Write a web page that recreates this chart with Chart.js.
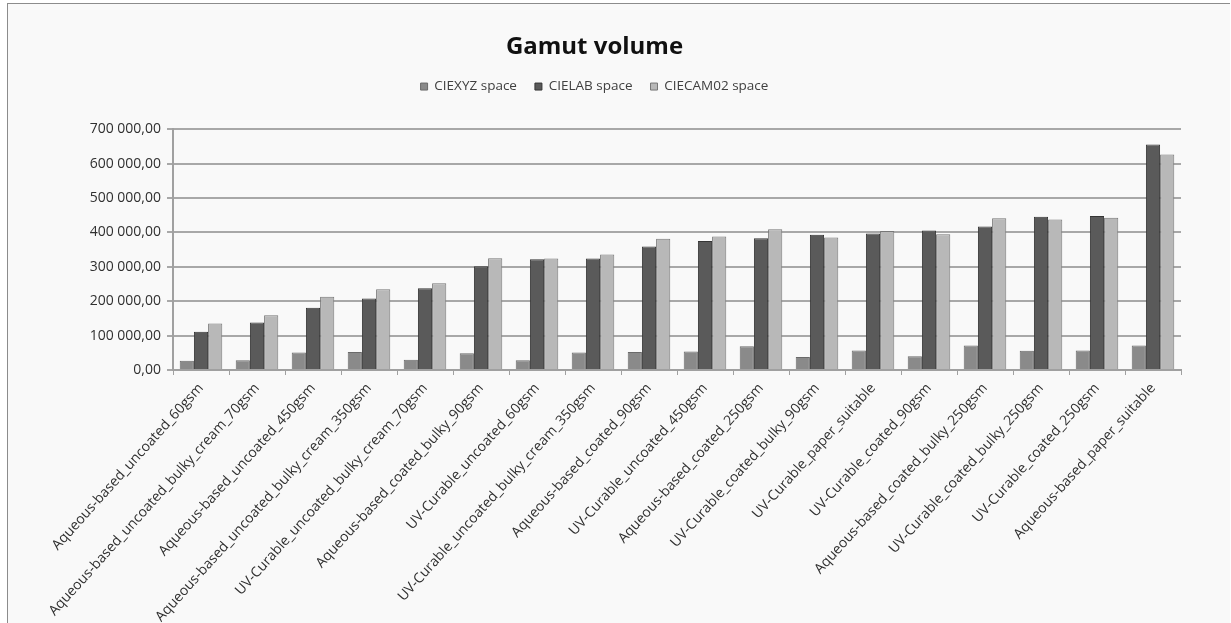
<!DOCTYPE html>
<html>
<head>
<meta charset="utf-8">
<script src="https://cdn.jsdelivr.net/npm/chart.js@4"></script>
<style>
  body { margin: 0; background: #ffffff; }
  #frame {
    position: absolute; left: 7px; top: 3px;
    width: 1222px; height: 620px;
    background: #f9f9f9;
    border-left: 1px solid #8c8c8c; border-top: 1px solid #8c8c8c;
  }
</style>
</head>
<body>
<div id="frame"><canvas id="gamutChart" width="1222" height="620"></canvas></div>
<script>
// Categories (paper / ink combinations)
const categories = [
  'Aqueous-based_uncoated_60gsm',
  'Aqueous-based_uncoated_bulky_cream_70gsm',
  'Aqueous-based_uncoated_450gsm',
  'Aqueous-based_uncoated_bulky_cream_350gsm',
  'UV-Curable_uncoated_bulky_cream_70gsm',
  'Aqueous-based_coated_bulky_90gsm',
  'UV-Curable_uncoated_60gsm',
  'UV-Curable_uncoated_bulky_cream_350gsm',
  'Aqueous-based_coated_90gsm',
  'UV-Curable_uncoated_450gsm',
  'Aqueous-based_coated_250gsm',
  'UV-Curable_coated_bulky_90gsm',
  'UV-Curable_paper_suitable',
  'UV-Curable_coated_90gsm',
  'Aqueous-based_coated_bulky_250gsm',
  'UV-Curable_coated_bulky_250gsm',
  'UV-Curable_coated_250gsm',
  'Aqueous-based_paper_suitable'
];

// Gamut volumes
const ciexyz = [27000, 28000, 51000, 52000, 30000, 49000, 28000, 51000, 52000, 54000, 69000, 38000, 57000, 40000, 71000, 56000, 57000, 71000];
const cielab = [111000, 138000, 181000, 208000, 238000, 302000, 322000, 324000, 359000, 375000, 383000, 393000, 397000, 406000, 417000, 446000, 448000, 656000];
const ciecam = [135000, 159000, 213000, 235000, 252000, 325000, 324000, 336000, 382000, 388000, 409000, 385000, 404000, 395000, 441000, 438000, 443000, 627000];

const seriesNames = ['CIEXYZ space', 'CIELAB space', 'CIECAM02 space'];
const yTicks = [0, 100000, 200000, 300000, 400000, 500000, 600000, 700000];

// "700 000,00" style labels
function formatValue(v) {
  const whole = Math.round(v).toString().replace(/\B(?=(\d{3})+(?!\d))/g, ' ');
  return whole + ',00';
}

const font = "'Open Sans', 'Liberation Sans', sans-serif";

// extra room under the legend, like the original layout
const legendGap = {
  id: 'legendGap',
  beforeInit(chart) {
    const fit = chart.legend.fit;
    chart.legend.fit = function () {
      fit.bind(chart.legend)();
      this.height += 26;
    };
  }
};

const ctx = document.getElementById('gamutChart').getContext('2d');
new Chart(ctx, {
  type: 'bar',
  data: {
    labels: categories,
    datasets: [
      { label: seriesNames[0], data: ciexyz, backgroundColor: '#8a8a8a', borderColor: '#6a6a6a', borderWidth: 1 },
      { label: seriesNames[1], data: cielab, backgroundColor: '#5a5a5a', borderColor: '#353535', borderWidth: 1 },
      { label: seriesNames[2], data: ciecam, backgroundColor: '#b8b8b8', borderColor: '#777777', borderWidth: 1 }
    ]
  },
  options: {
    responsive: false,
    animation: false,
    layout: { padding: { left: 0, right: 49, top: 12, bottom: 0 } },
    datasets: { bar: { categoryPercentage: 0.76, barPercentage: 1.0 } },
    plugins: {
      title: {
        display: true,
        text: 'Gamut volume',
        color: '#111',
        font: { family: font, size: 24, weight: 'bold' },
        padding: { top: 17, bottom: 0 }
      },
      legend: {
        position: 'top',
        labels: {
          color: '#404040',
          font: { family: font, size: 13.5 },
          boxWidth: 7, boxHeight: 7,
          padding: 18
        }
      },
      tooltip: { enabled: false }
    },
    scales: {
      x: {
        offset: true,
        grid: { display: true, drawOnChartArea: false, offset: true, color: '#a0a0a0', tickLength: 5 },
        border: { color: '#a0a0a0', width: 2 },
        ticks: {
          color: '#303030',
          font: { family: font, size: 14 },
          minRotation: 48, maxRotation: 48,
          autoSkip: false, padding: 5
        },
        afterFit: s => { s.height = 254; }
      },
      y: {
        min: 0, max: 700000,
        afterBuildTicks: s => { s.ticks = yTicks.map(v => ({ value: v })); },
        grid: { color: '#a8a8a8', lineWidth: 2, tickLength: 6 },
        border: { color: '#a0a0a0', width: 2 },
        ticks: {
          color: '#303030',
          font: { family: font, size: 14 },
          padding: 6,
          callback: v => formatValue(v)
        },
        afterFit: s => { s.width = 165; }
      }
    }
  },
  plugins: [legendGap]
});
</script>
</body>
</html>
